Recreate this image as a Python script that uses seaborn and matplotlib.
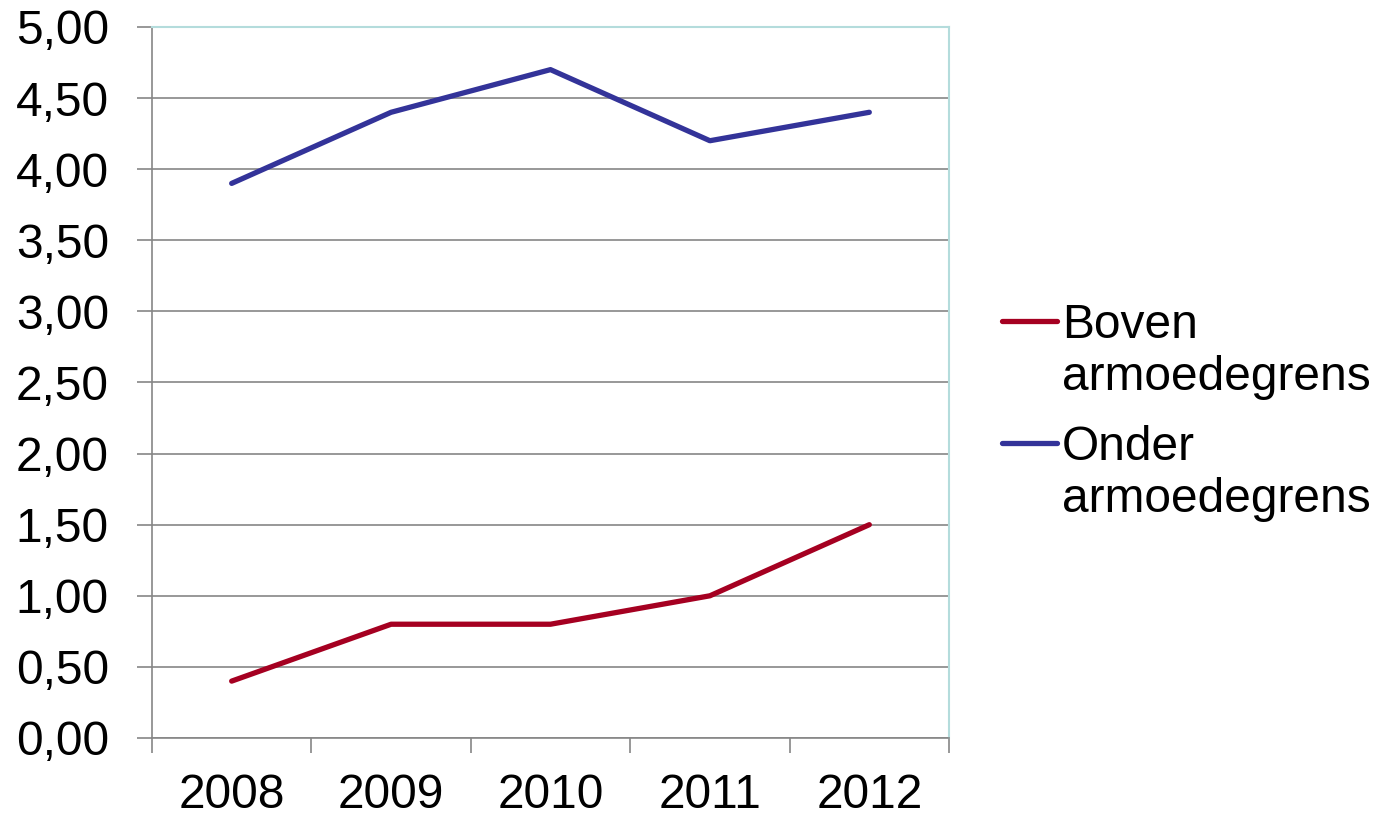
import matplotlib
matplotlib.use("Agg")
import matplotlib.pyplot as plt
import seaborn as sns
import numpy as np
import pandas as pd
from matplotlib.ticker import FuncFormatter
from matplotlib.legend_handler import HandlerLine2D

years = ["2008", "2009", "2010", "2011", "2012"]
boven = [0.4, 0.8, 0.8, 1.0, 1.5]
onder = [3.9, 4.4, 4.7, 4.2, 4.4]
series_names = ["Boven\narmoedegrens", "Onder\narmoedegrens"]
colors = ["#A50021", "#333399"]

df = pd.DataFrame({
    "jaar": years * 2,
    "waarde": boven + onder,
    "groep": [series_names[0]] * len(years) + [series_names[1]] * len(years),
})


class TopLineHandler(HandlerLine2D):
    # put the legend line next to the first text line, not in the middle
    def create_artists(self, legend, orig_handle, xdescent, ydescent,
                       width, height, fontsize, trans):
        artists = super().create_artists(legend, orig_handle, xdescent, ydescent,
                                         width, height, fontsize, trans)
        for a in artists:
            a.set_ydata(np.asarray(a.get_ydata()) + 0.645 * fontsize)
        return artists


sns.set_style("white")
plt.rcParams["font.family"] = ["Liberation Sans", "DejaVu Sans"]
plt.rcParams["text.color"] = "black"

fig = plt.figure(figsize=(13.84, 8.17), dpi=100)
ax = fig.add_axes([0.1098, 0.0967, 0.5759, 0.8703])

sns.lineplot(data=df, x="jaar", y="waarde", hue="groep", palette=colors,
             linewidth=3.8, ax=ax, sort=False)

ax.set_xlim(-0.5, 4.5)
ax.set_ylim(0, 5)
ax.set_yticks([i * 0.5 for i in range(11)])
ax.yaxis.set_major_formatter(FuncFormatter(lambda v, p: f"{v:.2f}".replace(".", ",")))
ax.grid(axis="y", color="#868686", linewidth=1.2)
ax.set_axisbelow(True)

# category boundaries as tick marks, labels in the middle
ax.set_xticks([i - 0.5 for i in range(6)])
ax.set_xticklabels([])
ax.set_xticks(range(5), minor=True)
ax.set_xticklabels(years, minor=True)
ax.tick_params(axis="x", which="major", length=11, width=1.2, color="#868686",
               direction="out", bottom=True)
ax.tick_params(axis="x", which="minor", length=0, pad=25, labelsize=34.5,
               labelcolor="black")
ax.tick_params(axis="y", length=11, width=1.2, color="#868686", direction="out",
               left=True, pad=20, labelsize=34.5, labelcolor="black")

for side in ["left", "bottom"]:
    ax.spines[side].set_color("#868686")
    ax.spines[side].set_linewidth(1.2)
for side in ["top", "right"]:
    ax.spines[side].set_color("#B4DCDC")
    ax.spines[side].set_linewidth(1.5)

ax.set_xlabel("")
ax.set_ylabel("")

handles, labels = ax.get_legend_handles_labels()
leg = ax.legend(handles, labels, loc="center left", bbox_to_anchor=(0.693, 0.495),
                bbox_transform=fig.transFigure, frameon=False, fontsize=34.5,
                handlelength=1.15, handletextpad=0.1, labelspacing=0.52,
                handler_map={matplotlib.lines.Line2D: TopLineHandler()})
for t in leg.get_texts():
    t.set_linespacing(1.2)

fig.savefig("out.png", dpi=100)
